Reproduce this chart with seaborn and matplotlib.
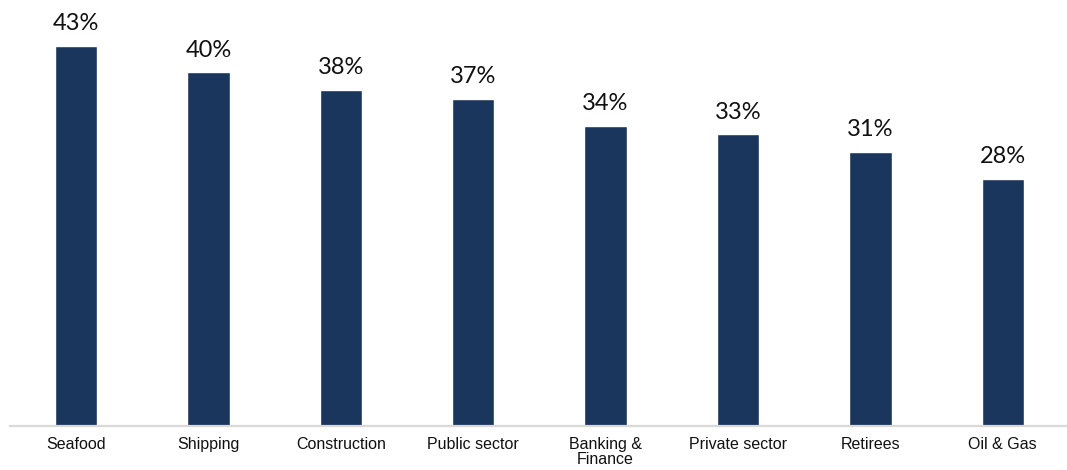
import matplotlib
matplotlib.use("Agg")
import matplotlib.pyplot as plt
import seaborn as sns
import pandas as pd

categories = ["Seafood", "Shipping", "Construction", "Public sector",
              "Banking &\nFinance", "Private sector", "Retirees", "Oil & Gas"]
values = [43, 40, 38, 37, 34, 33, 31, 28]

sns.set_theme(style="white")
plt.rcParams["font.family"] = ["Liberation Sans", "DejaVu Sans"]

df = pd.DataFrame({"sector": categories, "share": values})

W, H = 1067, 470
fig = plt.figure(figsize=(W / 100, H / 100), dpi=100)
ax = fig.add_axes([10 / W, 44 / H, 1 - 10 / W, 426 / H])

sns.barplot(data=df, x="sector", y="share", color="#1b365d",
            width=0.32, saturation=1, ax=ax)

ax.set_xlim(-0.4985, 7.485)
ax.set_ylim(0, 48.2)

for i, v in enumerate(values):
    ax.annotate(f"{v}%", xy=(i, v), xytext=(0, 8.5), textcoords="offset points",
                ha="center", va="bottom", fontsize=17,
                family=["Lato", "DejaVu Sans"], color="#111111")

ax.set_xlabel("")
ax.set_ylabel("")
ax.set_yticks([])
ax.tick_params(axis="x", length=0, pad=8, labelsize=11.5, colors="#111111")
for lab in ax.get_xticklabels():
    lab.set_linespacing(1.0)
    lab.set_verticalalignment("top")

for side in ["top", "right", "left"]:
    ax.spines[side].set_visible(False)
ax.spines["bottom"].set_color("#d9d9d9")
ax.spines["bottom"].set_linewidth(1.6)

fig.savefig("out.png", dpi=100)
